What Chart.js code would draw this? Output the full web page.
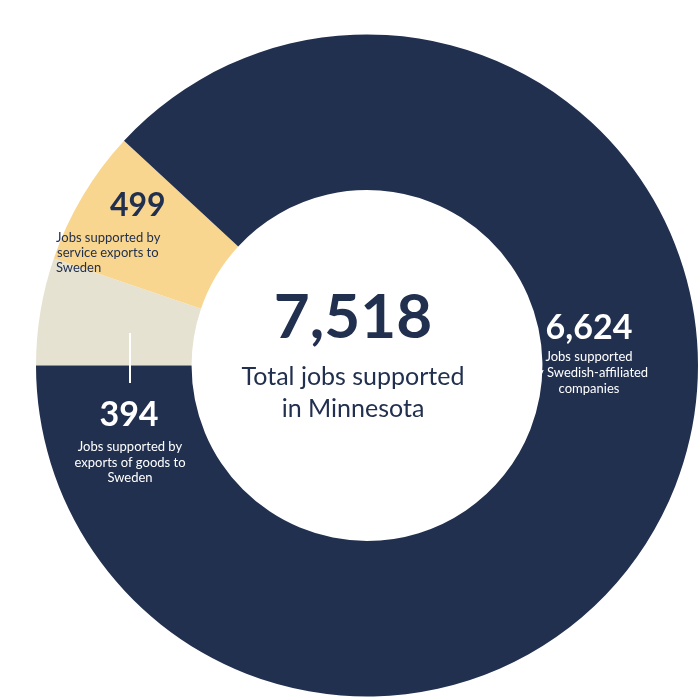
<!DOCTYPE html>
<html><head><meta charset="utf-8">
<script src="https://cdn.jsdelivr.net/npm/chart.js@4"></script>
<style>body{margin:0;background:#fff}canvas{display:block}</style></head>
<body><canvas id="c" width="700" height="700"></canvas>
<script>
const categories = ["Jobs supported by exports of goods to Sweden","Jobs supported by service exports to Sweden","Jobs supported by Swedish-affiliated companies"];
const values = [394, 499, 6624];
const totalLabel = "7,518";
const colors = ["#e6e2d2", "#f9d68f", "#22304f"];
const F = "Lato, 'Open Sans', sans-serif";
const labels = {
  id: "labels",
  afterDraw(chart) {
    const c = chart.ctx; c.save();
    c.textBaseline = "middle";
    c.strokeStyle = "#fff"; c.lineWidth = 2;
    c.beginPath(); c.moveTo(130, 333); c.lineTo(130, 383); c.stroke();
    c.fillStyle = "#22304f"; c.textAlign = "center";
    c.font = "bold 62px " + F; c.fillText(totalLabel, 353, 318);
    c.font = "25px " + F; c.fillText("Total jobs supported", 353, 377); c.fillText("in Minnesota", 353, 409);
    c.fillStyle = "#fff";
    c.font = "bold 34px " + F; c.fillText("6,624", 589, 328);
    c.font = "13px " + F; c.fillText("Jobs supported", 589, 357); c.fillText("by Swedish-affiliated", 589, 373); c.fillText("companies", 589, 389);
    c.font = "bold 34px " + F; c.fillText("394", 129, 415);
    c.font = "13px " + F; c.fillText("Jobs supported by", 130, 447); c.fillText("exports of goods to", 130, 463); c.fillText("Sweden", 130, 478);
    c.fillStyle = "#22304f"; c.textAlign = "left";
    c.font = "bold 32px " + F; c.fillText("499", 110, 206);
    c.font = "13px " + F; c.fillText("Jobs supported by", 56, 238); c.fillText("service exports to", 57, 253); c.fillText("Sweden", 56, 268);
    c.restore();
  }
};
new Chart(document.getElementById("c"), {
  type: "doughnut",
  data: { labels: categories, datasets: [{ data: values, backgroundColor: colors, borderWidth: 0 }] },
  options: {
    responsive: false, animation: false, rotation: 270, cutout: "53%",
    layout: { padding: { left: 36, top: 34, right: 2, bottom: 3 } },
    plugins: { legend: { display: false }, tooltip: { enabled: false } }
  },
  plugins: [labels]
});
</script></body></html>
